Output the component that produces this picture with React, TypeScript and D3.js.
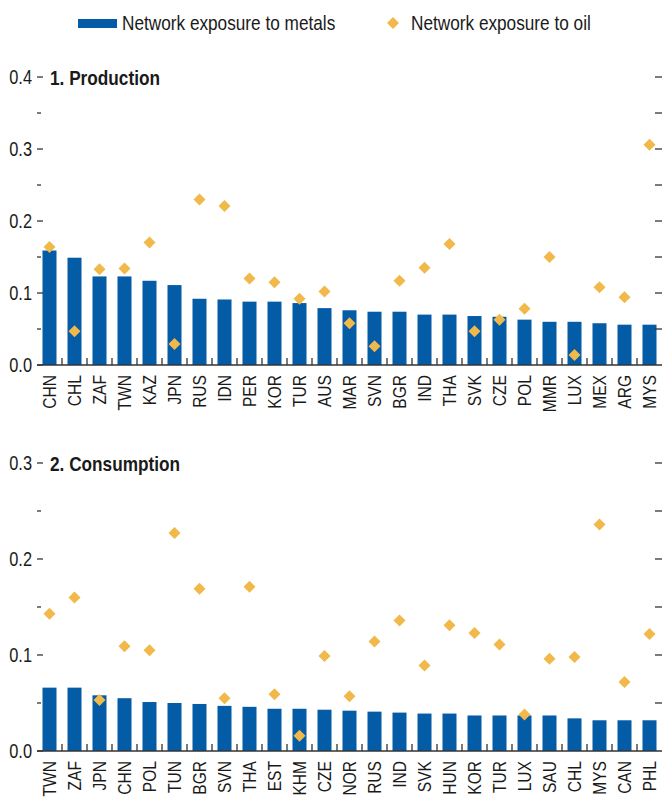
import React from "react";
import * as d3 from "d3";

const prodCountries = ["CHN","CHL","ZAF","TWN","KAZ","JPN","RUS","IDN","PER","KOR","TUR","AUS","MAR","SVN","BGR","IND","THA","SVK","CZE","POL","MMR","LUX","MEX","ARG","MYS"];
const prodMetals = [0.159,0.149,0.123,0.123,0.117,0.111,0.092,0.091,0.088,0.088,0.086,0.079,0.076,0.074,0.074,0.070,0.070,0.068,0.067,0.063,0.060,0.060,0.058,0.056,0.056];
const prodOil = [0.164,0.047,0.133,0.134,0.170,0.029,0.230,0.221,0.120,0.115,0.092,0.102,0.058,0.026,0.117,0.135,0.168,0.047,0.063,0.078,0.150,0.014,0.108,0.094,0.306];

const consCountries = ["TWN","ZAF","JPN","CHN","POL","TUN","BGR","SVN","THA","EST","KHM","CZE","NOR","RUS","IND","SVK","HUN","KOR","TUR","LUX","SAU","CHL","MYS","CAN","PHL"];
const consMetals = [0.066,0.066,0.058,0.055,0.051,0.050,0.049,0.047,0.046,0.044,0.044,0.043,0.042,0.041,0.040,0.039,0.039,0.037,0.037,0.037,0.037,0.034,0.032,0.032,0.032];
const consOil = [0.143,0.160,0.053,0.109,0.105,0.227,0.169,0.055,0.171,0.059,0.016,0.099,0.057,0.114,0.136,0.089,0.131,0.123,0.111,0.038,0.096,0.098,0.236,0.072,0.122];

const prodTicks = [0, 0.1, 0.2, 0.3, 0.4];
const consTicks = [0, 0.1, 0.2, 0.3];

const BLUE = "#045BA6";
const GOLD = "#F1B84A";
const INK = "#1a1a1a";
const FONT = "'Liberation Sans', Arial, sans-serif";
const SQ = 0.82;

const X0 = 37, X1 = 662;
const diamond = d3.symbol(d3.symbolSquare).size(72)();

function T({ x, y, rot = 0, anchor = "start", size = 20, weight = "normal", dy = "0", children }: any) {
  return (
    <text transform={`translate(${x},${y}) rotate(${rot}) scale(${SQ},1)`} dy={dy} textAnchor={anchor}
      fontSize={size} fontWeight={weight} fill={INK} fontFamily={FONT}>{children}</text>
  );
}

function Panel({ title, countries, metals, oil, ticks, yMax, top, bottom }: any) {
  const x = d3.scaleBand<string>().domain(countries).range([X0, X1]).paddingInner(0.44).paddingOuter(0.22);
  const y = d3.scaleLinear().domain([0, yMax]).range([bottom, top]);
  const minor: number[] = [];
  for (let v = 0.05; v < yMax; v += 0.1) minor.push(+v.toFixed(2));
  const all = d3.range(0, yMax + 0.001, 0.05).map((v) => +v.toFixed(2)).filter((v) => v > 0);
  const step = (X1 - X0) / countries.length;
  return (
    <g>
      {metals.map((m: number, i: number) => (
        <rect key={"b" + i} x={x(countries[i])} y={y(m)} width={x.bandwidth()} height={y(0) - y(m)} fill={BLUE} />
      ))}
      {oil.map((o: number, i: number) => (
        <path key={"d" + i} d={diamond} fill={GOLD}
          transform={`translate(${(x(countries[i]) as number) + x.bandwidth() / 2},${y(o)}) rotate(45)`} />
      ))}
      <line x1={X0} x2={X1} y1={y(0)} y2={y(0)} stroke="#333" strokeWidth={1.5} />
      {countries.slice(1).map((c: string, i: number) => (
        <line key={"xt" + i} x1={X0 + step * (i + 1)} x2={X0 + step * (i + 1)} y1={y(0)} y2={y(0) - 7} stroke="#333" strokeWidth={1.3} />
      ))}
      {ticks.map((t: number) => (
        <g key={"yt" + t}>
          <line x1={37} x2={43} y1={y(t)} y2={y(t)} stroke="#333" strokeWidth={1.3} />
          <T x={32} y={y(t)} dy="0.36em" anchor="end" size={20}>{t.toFixed(1)}</T>
        </g>
      ))}
      {minor.map((t: number) => (
        <line key={"ym" + t} x1={37} x2={41} y1={y(t)} y2={y(t)} stroke="#333" strokeWidth={1.3} />
      ))}
      {all.map((t: number) => (
        <line key={"yr" + t} x1={655} x2={662} y1={y(t)} y2={y(t)} stroke="#333" strokeWidth={1.3} />
      ))}
      <T x={50} y={y(yMax)} dy="0.36em" size={21} weight="bold">{title}</T>
      {countries.map((c: string) => (
        <T key={"xl" + c} x={(x(c) as number) + x.bandwidth() / 2} y={y(0) + 10} rot={-90} dy="0.36em" anchor="end" size={19}>{c}</T>
      ))}
    </g>
  );
}

export default function App() {
  return (
    <svg width={664} height={800} style={{ position: "absolute", left: 0, top: 0, background: "#fff" }}>
      <rect x={78} y={19} width={39} height={9} fill={BLUE} />
      <T x={122} y={30} size={21}>Network exposure to metals</T>
      <path d={diamond} fill={GOLD} transform="translate(393,23) rotate(45)" />
      <T x={411} y={30} size={21}>Network exposure to oil</T>
      <Panel title="1. Production" countries={prodCountries} metals={prodMetals} oil={prodOil} ticks={prodTicks} yMax={0.4} top={77} bottom={365} />
      <Panel title="2. Consumption" countries={consCountries} metals={consMetals} oil={consOil} ticks={consTicks} yMax={0.3} top={463} bottom={751} />
    </svg>
  );
}
